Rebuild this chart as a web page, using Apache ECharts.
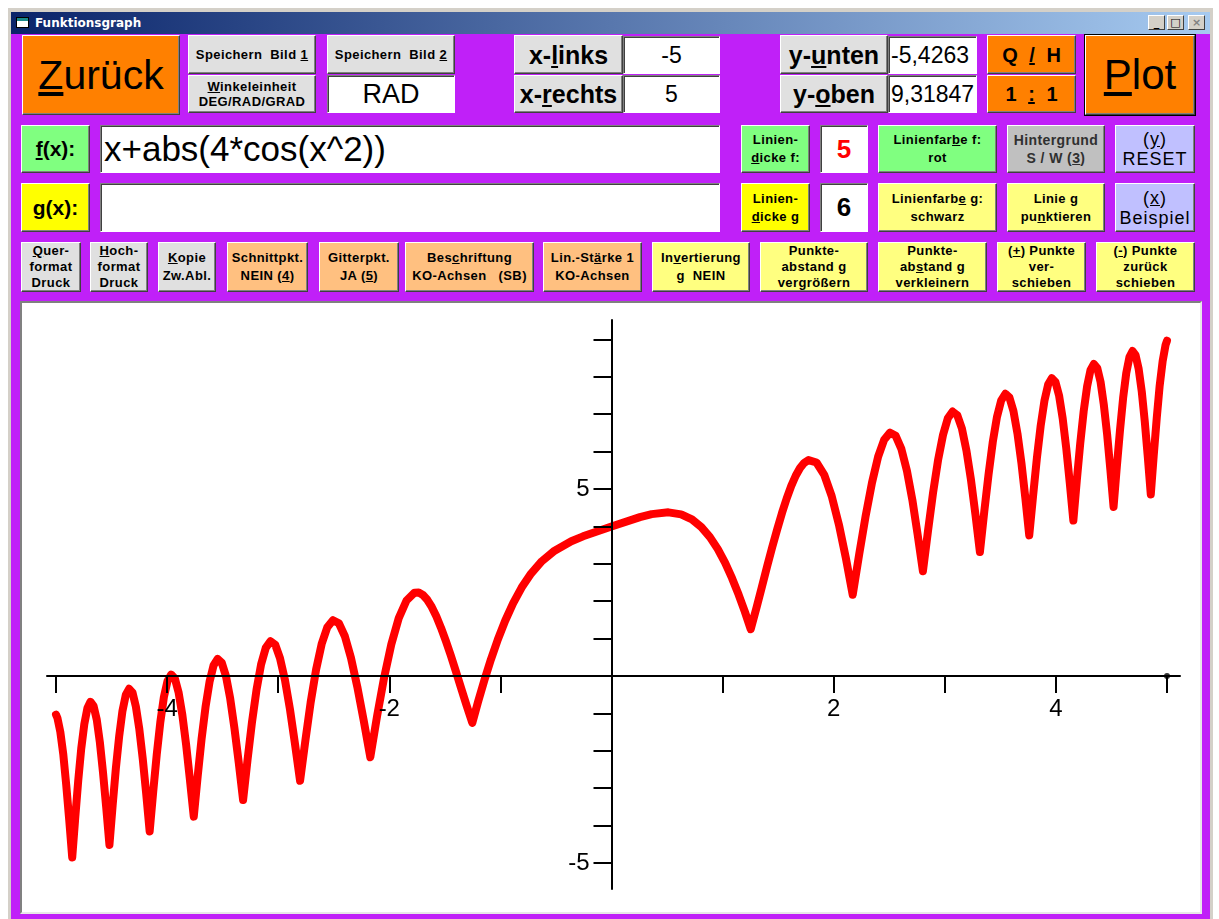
<!DOCTYPE html>
<html><head><meta charset="utf-8">
<script src="https://cdn.jsdelivr.net/npm/echarts@6/dist/echarts.min.js"></script>
<style>
html,body{margin:0;padding:0;width:1219px;height:919px;overflow:hidden;background:#fff;font-family:"Liberation Sans",Arial,sans-serif;}
#frame{position:absolute;left:7px;top:7px;width:1206px;height:912px;background:#D4D0C8;box-shadow:inset 1px 1px #fff;}
#title{position:absolute;left:11px;top:12px;width:1199px;height:22px;background:linear-gradient(to right,#0A246A,#A6CAF0);}
#title .txt{position:absolute;left:24px;top:4px;color:#fff;font:bold 12px "DejaVu Sans",sans-serif;}
#title .ico{position:absolute;left:5px;top:5px;width:11px;height:9px;background:#fff;border:1px solid #000;box-shadow:inset 0 3px #1a8a8a;}
.wc{position:absolute;top:3px;width:17px;height:15px;box-sizing:border-box;background:#D4D0C8;border:1px solid;border-color:#fff #404040 #404040 #fff;font:bold 11px "DejaVu Sans",sans-serif;line-height:13px;text-align:center;color:#000;}
#client{position:absolute;left:11px;top:34px;width:1199px;height:885px;background:#C020F8;}
.b{position:absolute;box-sizing:border-box;display:flex;align-items:center;justify-content:center;text-align:center;font-weight:bold;font-size:13px;letter-spacing:0.4px;line-height:16px;color:#000;border:1px solid;border-color:#fff #404040 #404040 #fff;box-shadow:inset -1px -1px #808080;}
.t{position:absolute;box-sizing:border-box;background:#fff;border:1px solid;border-color:#808080 #fff #fff #808080;box-shadow:inset 1px 1px #404040;display:flex;align-items:center;justify-content:center;}
.g{background:#E0E0E0;} .o{background:#FF8000;} .gr{background:#80FF80;} .y{background:#FFFF00;} .ly{background:#FFFF80;} .p{background:#FFC080;} .lv{background:#C0C0FF;} .s{background:#C0C0C0;color:#303030;}
#plotwrap{position:absolute;left:20px;top:301px;width:1182px;height:613px;box-sizing:border-box;border:2px solid;border-color:#808080 #E8E8E8 #E8E8E8 #808080;background:#fff;}
#chart{position:absolute;left:0;top:0;width:1178px;height:609px;}
</style></head>
<body>
<div id="frame"></div>
<div id="title"><div class="ico"></div><div class="txt">Funktionsgraph</div>
<div class="wc" style="left:1137px">_</div><div class="wc" style="left:1156px">□</div><div class="wc" style="left:1177px;color:#808080">×</div></div>
<div id="client"></div>

<div class="b o" style="left:22px;top:35px;width:158px;height:80px;font-size:41px;font-weight:normal;letter-spacing:0">
<span><u>Z</u>urück</span></div>
<div class="b g" style="left:188px;top:35px;width:128px;height:39px">Speichern&nbsp; Bild&nbsp; <u>1</u></div>
<div class="b g" style="left:188px;top:75px;width:128px;height:38px;line-height:15px"><span><u>W</u>inkeleinheit<br>DEG/RAD/GRAD</span></div>
<div class="b g" style="left:327px;top:35px;width:128px;height:39px">Speichern&nbsp; Bild&nbsp; <u>2</u></div>
<div class="t" style="left:327px;top:75px;width:128px;height:38px;font-size:27px">RAD</div>

<div class="b g" style="left:514px;top:35px;width:109px;height:39px;font-size:25px;letter-spacing:0"><span>x-<u>l</u>inks</span></div>
<div class="b g" style="left:514px;top:75px;width:109px;height:38px;font-size:25px;letter-spacing:0"><span>x-<u>r</u>echts</span></div>
<div class="t" style="left:623px;top:36px;width:97px;height:38px;font-size:23px">-5</div>
<div class="t" style="left:623px;top:75px;width:97px;height:38px;font-size:23px">5</div>

<div class="b g" style="left:780px;top:35px;width:108px;height:39px;font-size:25px;letter-spacing:0"><span>y-<u>u</u>nten</span></div>
<div class="b g" style="left:780px;top:75px;width:108px;height:38px;font-size:25px;letter-spacing:0"><span>y-<u>o</u>ben</span></div>
<div class="t" style="left:888px;top:36px;width:89px;height:38px;font-size:23px;justify-content:flex-start;padding-left:2px;overflow:hidden">-5,4263</div>
<div class="t" style="left:888px;top:75px;width:89px;height:38px;font-size:23px;justify-content:flex-start;padding-left:2px;overflow:hidden">9,31847</div>

<div class="b o" style="left:987px;top:35px;width:89px;height:39px;font-size:20px;letter-spacing:0;word-spacing:6px"><span>Q <u>/</u> H</span></div>
<div class="b o" style="left:987px;top:75px;width:89px;height:38px;font-size:20px;letter-spacing:0;word-spacing:6px"><span>1 <u>:</u> 1</span></div>
<div class="b o" style="left:1085px;top:35px;width:110px;height:80px;font-size:42px;font-weight:normal;letter-spacing:0;outline:1px solid #000"><span><u>P</u>lot</span></div>

<div class="b gr" style="left:21px;top:125px;width:69px;height:48px;font-size:21px;letter-spacing:0"><span><u>f</u>(x):</span></div>
<div class="t" style="left:100px;top:125px;width:620px;height:48px;font-size:35px;justify-content:flex-start;padding-left:3px">x+abs(4*cos(x^2))</div>
<div class="b gr" style="left:741px;top:125px;width:69px;height:48px;line-height:18px"><span>Linien-<br><u>d</u>icke f:</span></div>
<div class="t" style="left:820px;top:125px;width:48px;height:48px;font-size:26px;font-weight:bold;color:#FF0000">5</div>
<div class="b gr" style="left:878px;top:125px;width:119px;height:48px;line-height:18px"><span>Linienfar<u>b</u>e f:<br>rot</span></div>
<div class="b s" style="left:1007px;top:125px;width:98px;height:48px;line-height:18px;font-size:14px"><span>Hintergrund<br>S / W (<u>3</u>)</span></div>
<div class="b lv" style="left:1115px;top:125px;width:80px;height:48px;font-size:18px;font-weight:normal;letter-spacing:1px;line-height:20px"><span>(<u>y</u>)<br>RESET</span></div>

<div class="b y" style="left:21px;top:183px;width:69px;height:49px;font-size:21px;letter-spacing:0"><span><u>g</u>(x):</span></div>
<div class="t" style="left:100px;top:183px;width:620px;height:49px"></div>
<div class="b y" style="left:741px;top:183px;width:69px;height:49px;line-height:18px"><span>Linien-<br><u>d</u>icke g</span></div>
<div class="t" style="left:820px;top:183px;width:48px;height:49px;font-size:26px;font-weight:bold">6</div>
<div class="b ly" style="left:878px;top:183px;width:119px;height:49px;line-height:18px"><span>Linienfarb<u>e</u> g:<br>schwarz</span></div>
<div class="b ly" style="left:1007px;top:183px;width:98px;height:49px;line-height:18px"><span>Linie g<br>pu<u>n</u>ktieren</span></div>
<div class="b lv" style="left:1115px;top:183px;width:80px;height:49px;font-size:18px;font-weight:normal;letter-spacing:1px;line-height:20px"><span>(<u>x</u>)<br>Beispiel</span></div>

<div class="b g" style="left:21px;top:242px;width:60px;height:50px"><span><u>Q</u>uer-<br>format<br>Druck</span></div>
<div class="b g" style="left:90px;top:242px;width:58px;height:50px"><span><u>H</u>och-<br>format<br>Druck</span></div>
<div class="b g" style="left:158px;top:242px;width:58px;height:50px;line-height:18px"><span><u>K</u>opie<br>Zw.Abl.</span></div>
<div class="b p" style="left:227px;top:242px;width:81px;height:50px;line-height:18px"><span>Schnittpkt.<br>NEIN (<u>4</u>)</span></div>
<div class="b p" style="left:319px;top:242px;width:80px;height:50px;line-height:18px"><span>Gitterpkt.<br>JA (<u>5</u>)</span></div>
<div class="b p" style="left:405px;top:242px;width:129px;height:50px;line-height:18px"><span>Bes<u>c</u>hriftung<br>KO-Achsen&nbsp;&nbsp; (SB)</span></div>
<div class="b p" style="left:543px;top:242px;width:99px;height:50px;line-height:18px"><span>Lin.-St<u>ä</u>rke 1<br>KO-Achsen</span></div>
<div class="b ly" style="left:652px;top:242px;width:98px;height:50px;line-height:18px"><span>In<u>v</u>ertierung<br>g&nbsp; NEIN</span></div>
<div class="b ly" style="left:760px;top:242px;width:108px;height:50px"><span>Punkte-<br>abstand g<br>vergrößern</span></div>
<div class="b ly" style="left:878px;top:242px;width:109px;height:50px"><span>Punkte-<br>ab<u>s</u>tand g<br>verkleinern</span></div>
<div class="b ly" style="left:997px;top:242px;width:89px;height:50px"><span>(<u>+</u>) Punkte<br>ver-<br>schieben</span></div>
<div class="b ly" style="left:1096px;top:242px;width:99px;height:50px"><span>(<u>-</u>) Punkte<br>zurück<br>schieben</span></div>

<div id="plotwrap"><div id="chart"></div></div>

<script>
// Curve f(x) = x+abs(4*cos(x^2)) (left to right)
const xValues = [
-5, -4.987, -4.961, -4.934, -4.908, -4.881, -4.854, -4.827, -4.800, -4.773, -4.745, -4.717, -4.690, -4.662, -4.633, -4.605, -4.577, -4.548, -4.519, -4.490, -4.461, -4.431, -4.402, -4.372, -4.342, -4.311, -4.281, -4.250, -4.219, -4.188, -4.157, -4.125, -4.093, -4.061, -4.029, -3.996, -3.963, -3.930, -3.897, -3.863, -3.829, -3.795, -3.760, -3.725, -3.690, -3.654, -3.618, -3.582, -3.545, -3.508, -3.470, -3.432, -3.394, -3.355, -3.316, -3.276, -3.236, -3.195, -3.154, -3.112, -3.070, -3.027, -2.984, -2.939, -2.894, -2.849, -2.803, -2.755, -2.708, -2.659, -2.609, -2.558, -2.507, -2.454, -2.400, -2.345, -2.288, -2.230, -2.171, -2.110, -2.047, -1.982, -1.915, -1.845,
-1.773, -1.735, -1.697, -1.658, -1.618, -1.577, -1.535, -1.492, -1.447, -1.401, -1.354, -1.305, -1.253, -1.200, -1.144, -1.085, -1.023, -0.957, -0.886, -0.809, -0.724, -0.627, -0.512, -0.362, -0.256,
0,
0.256, 0.362, 0.512, 0.627, 0.724, 0.809, 0.886, 0.957, 1.023, 1.085, 1.144, 1.200, 1.253, 1.305, 1.354, 1.401, 1.447, 1.492, 1.535, 1.577, 1.618, 1.658, 1.697, 1.735, 1.773,
1.845, 1.915, 1.982, 2.047, 2.110, 2.171, 2.230, 2.288, 2.345, 2.400, 2.454, 2.507, 2.558, 2.609, 2.659, 2.708, 2.755, 2.803, 2.849, 2.894, 2.939, 2.984, 3.027, 3.070, 3.112, 3.154, 3.195, 3.236, 3.276, 3.316, 3.355, 3.394, 3.432, 3.470, 3.508, 3.545, 3.582, 3.618, 3.654, 3.690, 3.725, 3.760, 3.795, 3.829, 3.863, 3.897, 3.930, 3.963, 3.996, 4.029, 4.061, 4.093, 4.125, 4.157, 4.188, 4.219, 4.250, 4.281, 4.311, 4.342, 4.372, 4.402, 4.431, 4.461, 4.490, 4.519, 4.548, 4.577, 4.605, 4.633, 4.662, 4.690, 4.717, 4.745, 4.773, 4.800, 4.827, 4.854, 4.881, 4.908, 4.934, 4.961, 4.987, 5
];
const yValues = [
-1.035, -1.123, -1.497, -2.106, -2.908, -3.846, -4.854, -3.792, -2.800, -1.945, -1.281, -0.853, -0.690, -0.798, -1.169, -1.777, -2.577, -3.513, -4.519, -3.455, -2.461, -1.603, -0.938, -0.508, -0.342, -0.447, -0.817, -1.422, -2.219, -3.153, -4.157, -3.090, -2.093, -1.233, -0.565, -0.132, 0.037, -0.066, -0.433, -1.035, -1.829, -2.760, -3.760, -2.690, -1.690, -0.826, -0.154, 0.282, 0.455, 0.356, -0.006, -0.604, -1.394, -2.320, -3.316, -2.241, -1.236, -0.367, 0.310, 0.752, 0.930, 0.837, 0.480, -0.111, -0.894, -1.814, -2.803, -1.720, -0.708, 0.169, 0.855, 1.306, 1.493, 1.410, 1.064, 0.483, -0.288, -1.195, -2.171, -1.075, -0.047, 0.846, 1.549, 2.019,
2.227, 2.231, 2.167, 2.038, 1.846, 1.596, 1.293, 0.943, 0.553, 0.130, -0.319, -0.783, -1.253, -0.678, -0.109, 0.446, 0.977, 1.478, 1.942, 2.364, 2.740, 3.069, 3.352, 3.604, 3.735,
4.000,
4.247, 4.328, 4.376, 4.323, 4.188, 3.982, 3.714, 3.392, 3.023, 2.616, 2.179, 1.722, 1.253, 1.827, 2.389, 2.932, 3.447, 3.927, 4.363, 4.750, 5.082, 5.354, 5.561, 5.701, 5.773,
5.709, 5.379, 4.810, 4.047, 3.145, 2.171, 3.265, 4.288, 5.173, 5.864, 6.318, 6.507, 6.422, 6.073, 5.487, 4.708, 3.790, 2.803, 3.884, 4.894, 5.767, 6.448, 6.891, 7.070, 6.976, 6.618, 6.023, 5.236, 4.311, 3.316, 4.390, 5.394, 6.260, 6.934, 7.372, 7.545, 7.446, 7.082, 6.482, 5.690, 4.760, 3.760, 4.830, 5.829, 6.691, 7.361, 7.794, 7.963, 7.860, 7.493, 6.889, 6.093, 5.160, 4.157, 5.223, 6.219, 7.078, 7.745, 8.175, 8.342, 8.236, 7.866, 7.259, 6.461, 5.525, 4.519, 5.583, 6.577, 7.433, 8.097, 8.526, 8.690, 8.581, 8.209, 7.601, 6.800, 5.862, 4.854, 5.916, 6.908, 7.762, 8.425, 8.851, 8.965
];
const xTickValues = [-5, -4, -3, -2, -1, 0, 1, 2, 3, 4, 5];
const xLabelValues = [-4, -2, 2, 4];
const yTickValues = [-5, -4, -3, -2, -1, 1, 2, 3, 4, 5, 6, 7, 8, 9];
const yLabelValues = [-5, 5];
const endDot = [[5, 0]];

const X_MIN = -5.081, X_MAX = 5.117, Y_MIN = -5.695, Y_MAX = 9.519;
const G = { left: 25, right: 20, top: 17, bottom: 23 };
const W = 1178, H = 609;
const gw = W - G.left - G.right, gh = H - G.top - G.bottom;
// shift the axes so that they cross at the origin
const xAxisOffset = -(gh * (0 - Y_MIN) / (Y_MAX - Y_MIN));
const yAxisOffset = -(gw * (0 - X_MIN) / (X_MAX - X_MIN));

const chart = echarts.init(document.getElementById('chart'));
const lineData = xValues.map((x, i) => [x, yValues[i]]);
chart.setOption({
  animation: false,
  backgroundColor: '#ffffff',
  grid: Object.assign({ containLabel: false, outerBoundsMode: 'none' }, G),
  xAxis: {
    type: 'value', min: X_MIN, max: X_MAX, z: 10, position: 'bottom', offset: xAxisOffset,
    splitLine: { show: false },
    axisLine: { onZero: false, lineStyle: { color: '#000', width: 2 } },
    axisTick: { customValues: xTickValues, length: 17, lineStyle: { color: '#000', width: 2 } },
    axisLabel: { customValues: xLabelValues, fontSize: 24, color: '#000', margin: 21, fontFamily: 'Liberation Sans' }
  },
  yAxis: {
    type: 'value', min: Y_MIN, max: Y_MAX, z: 10, position: 'left', offset: yAxisOffset,
    splitLine: { show: false },
    axisLine: { onZero: false, lineStyle: { color: '#000', width: 2 } },
    axisTick: { customValues: yTickValues, length: 18, lineStyle: { color: '#000', width: 2 } },
    axisLabel: { customValues: yLabelValues, fontSize: 24, color: '#000', margin: 22, fontFamily: 'Liberation Sans' }
  },
  series: [
    { type: 'line', data: lineData, showSymbol: false, symbol: 'none', z: 3,
      lineStyle: { color: '#FF0000', width: 8, join: 'round', cap: 'round' } },
    { type: 'scatter', data: endDot, symbolSize: 6, z: 11, itemStyle: { color: '#000' } }
  ]
});
</script>
</body></html>
